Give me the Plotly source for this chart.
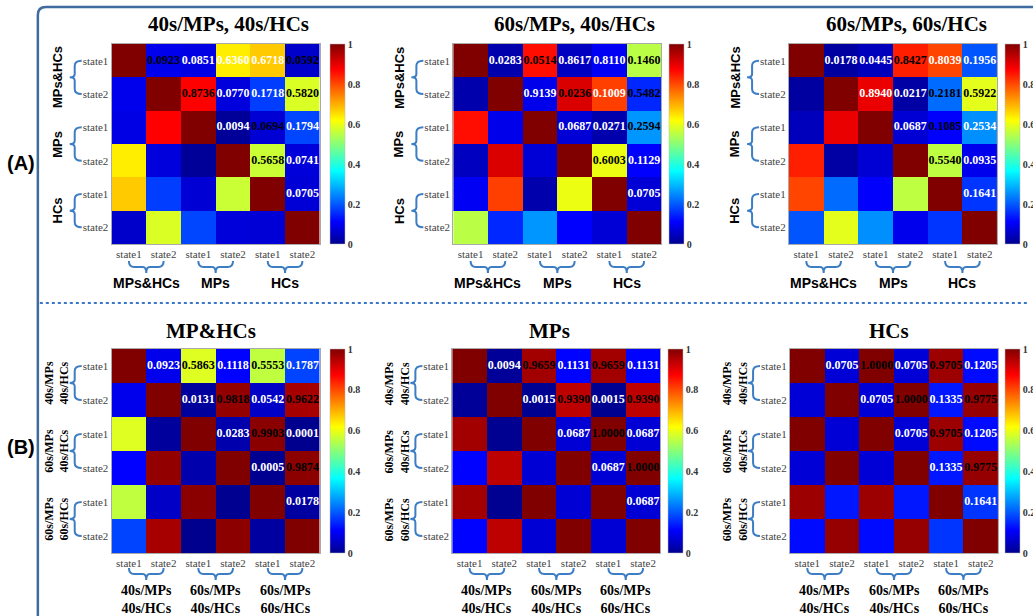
import plotly.graph_objects as go

W, H = 1033, 616

# ---------------- data ----------------
states = ["state1", "state2", "state1", "state2", "state1", "state2"]
a_groups = ["MPs&HCs", "MPs", "HCs"]
b_groups = ["40s/MPs<br>40s/HCs", "60s/MPs<br>40s/HCs", "60s/MPs<br>60s/HCs"]
titles = ["40s/MPs, 40s/HCs", "60s/MPs, 40s/HCs", "60s/MPs, 60s/HCs",
          "MP&HCs", "MPs", "HCs"]

# printed values, upper triangle, row by row
a1_text = [[0.0923, 0.0851, 0.6360, 0.6718, 0.0592], [0.8736, 0.0770, 0.1718, 0.5820],
           [0.0094, 0.0694, 0.1794], [0.5658, 0.0741], [0.0705]]
a2_text = [[0.0283, 0.0514, 0.8617, 0.8110, 0.1460], [0.9139, 0.0236, 0.1009, 0.5482],
           [0.0687, 0.0271, 0.2594], [0.6003, 0.1129], [0.0705]]
a3_text = [[0.0178, 0.0445, 0.8427, 0.8039, 0.1956], [0.8940, 0.0217, 0.2181, 0.5922],
           [0.0687, 0.1085, 0.2534], [0.5540, 0.0935], [0.1641]]
b1_text = [[0.0923, 0.5863, 0.1118, 0.5553, 0.1787], [0.0131, 0.9818, 0.0542, 0.9622],
           [0.0283, 0.9903, 0.0001], [0.0005, 0.9874], [0.0178]]
b2_text = [[0.0094, 0.9659, 0.1131, 0.9659, 0.1131], [0.0015, 0.9390, 0.0015, 0.9390],
           [0.0687, 1.0000, 0.0687], [0.0687, 1.0000], [0.0687]]
b3_text = [[0.0705, 1.0000, 0.0705, 0.9705, 0.1205], [0.0705, 1.0000, 0.1335, 0.9775],
           [0.0705, 0.9705, 0.1205], [0.1335, 0.9775], [0.1641]]

# colour values as seen (upper triangle, symmetric, diagonal = 1)
a1_color = a1_text
a2_color = [[0.03, 0.86, 0.05, 0.10, 0.55], [0.09, 0.91, 0.81, 0.15],
            [0.07, 0.03, 0.26], [0.60, 0.11], [0.07]]
a3_color = a3_text
b1_color = b1_text
b2_color = b2_text
b3_color = b3_text

# 1 = black label, 0 = white label
a1_dark = [[1, 0, 0, 0, 1], [1, 0, 0, 1], [0, 1, 0], [1, 0], [0]]
a2_dark = [[0, 1, 0, 0, 1], [0, 1, 0, 1], [0, 0, 1], [1, 0], [0]]
a3_dark = [[0, 0, 1, 0, 0], [0, 0, 1, 1], [0, 1, 0], [1, 0], [0]]
b1_dark = [[0, 1, 0, 1, 0], [0, 1, 0, 1], [0, 1, 0], [0, 1], [0]]
b2_dark = [[0, 1, 0, 1, 0], [0, 1, 0, 1], [0, 1, 0], [0, 1], [0]]
b3_dark = [[0, 1, 0, 1, 0], [0, 1, 0, 1], [0, 1, 0], [0, 1], [0]]

# ---------------- layout (pixels) ----------------
panels = [
    dict(x=(112, 321), y=(44, 244), cb=331, t=(229, 24), text=a1_text, col=a1_color, dark=a1_dark, kind="A"),
    dict(x=(455, 664), y=(44, 244), cb=672, t=(577, 24), text=a2_text, col=a2_color, dark=a2_dark, kind="A"),
    dict(x=(792, 1001), y=(44, 244), cb=1009, t=(910, 24), text=a3_text, col=a3_color, dark=a3_dark, kind="A"),
    dict(x=(112, 321), y=(349, 553), cb=331, t=(212, 331), text=b1_text, col=b1_color, dark=b1_dark, kind="B"),
    dict(x=(454, 663), y=(349, 553), cb=671, t=(552, 331), text=b2_text, col=b2_color, dark=b2_dark, kind="B"),
    dict(x=(793, 1002), y=(349, 553), cb=1009, t=(892, 331), text=b3_text, col=b3_color, dark=b3_dark, kind="B"),
]

jet = [[0, "rgb(0,0,143)"], [0.111, "rgb(0,0,255)"], [0.365, "rgb(0,255,255)"],
       [0.619, "rgb(255,255,0)"], [0.873, "rgb(255,0,0)"], [1, "rgb(128,0,0)"]]

SERIF = "Liberation Serif"
SANS = "Liberation Sans"
BLUE = "#3c7dc4"

fig = go.Figure()
annotations = []
shapes = []
layout = {}


def full(upper):
    n = len(upper) + 1
    m = [[1.0] * n for _ in range(n)]
    for i, row in enumerate(upper):
        for k, v in enumerate(row):
            j = i + 1 + k
            m[i][j] = v
            m[j][i] = v
    return m


for idx, p in enumerate(panels, start=1):
    sfx = "" if idx == 1 else str(idx)
    xa, ya = f"x{sfx}", f"y{sfx}"
    z = full(p["col"])
    fig.add_trace(go.Heatmap(
        z=z, x=list(range(6)), y=list(range(6)), colorscale=jet, zmin=0, zmax=1,
        xaxis=xa, yaxis=ya, hoverinfo="skip",
        colorbar=dict(x=p["cb"] / W, xanchor="left",
                      y=1 - (p["y"][0] + p["y"][1]) / 2 / H, yanchor="middle",
                      len=p["y"][1] - p["y"][0], lenmode="pixels",
                      thickness=15, thicknessmode="pixels", xpad=0, ypad=0,
                      tickvals=[0, 0.2, 0.4, 0.6, 0.8, 1],
                      ticktext=["0", "0.2", "0.4", "0.6", "0.8", "1"],
                      tickfont=dict(family=SERIF, size=10, color="#333", weight="bold"),
                      outlinewidth=0.5, outlinecolor="#bbb", ticklabelposition="outside"),
    ))
    tx, ty, tt, tc = [], [], [], []
    for i, row in enumerate(p["text"]):
        for k, v in enumerate(row):
            tx.append(i + 1 + k)
            ty.append(i)
            tt.append(f"{v:.4f}")
            tc.append("black" if p["dark"][i][k] else "white")
    fig.add_trace(go.Scatter(
        x=tx, y=ty, text=tt, mode="text", xaxis=xa, yaxis=ya, hoverinfo="skip",
        showlegend=False,
        textfont=dict(family=SERIF, size=12, color=tc, weight="bold")))

    wpx = p["x"][1] - p["x"][0]
    hpx = p["y"][1] - p["y"][0]
    axis_common = dict(showgrid=False, zeroline=False, showline=True, mirror=True,
                       linecolor="#aaa", linewidth=1, ticks="", fixedrange=True,
                       tickvals=list(range(6)), ticktext=states,
                       tickfont=dict(family=SERIF, size=11, color="#444"))
    layout[f"xaxis{sfx}"] = dict(domain=[p["x"][0] / W, p["x"][1] / W], anchor=ya,
                                 range=[-0.5, 5.5], **axis_common)
    layout[f"yaxis{sfx}"] = dict(domain=[1 - p["y"][1] / H, 1 - p["y"][0] / H], anchor=xa,
                                 range=[5.5, -0.5], **axis_common)

    # title
    annotations.append(dict(text=titles[idx - 1], x=p["t"][0] / W, y=1 - p["t"][1] / H,
                            xref="paper", yref="paper", showarrow=False,
                            xanchor="center", yanchor="middle",
                            font=dict(family=SERIF, size=21, color="black", weight="bold")))

    groups = a_groups if p["kind"] == "A" else b_groups
    if p["kind"] == "A":
        gfont_l = dict(family=SANS, size=13, color="black", weight="bold")
        gfont_b = dict(family=SANS, size=14, color="black", weight="bold")
        ends, hor, nub, gy = 17, 23, 29, 39
        lx = 54
    else:
        gfont_l = dict(family=SERIF, size=12, color="black", weight="bold")
        gfont_b = dict(family=SERIF, size=14, color="black", weight="bold")
        ends, hor, nub, gy = 15, 21, 27, 46
        lx = 55

    for g in range(3):
        y0, y1 = 2 * g, 2 * g + 1
        ym = y0 + 0.5
        v, e, n = -37 / wpx, -30 / wpx, -42 / wpx
        path = (f"M {e},{y0} Q {v},{y0} {v},{y0 + 0.15} L {v},{ym - 0.1} "
                f"Q {v},{ym} {n},{ym} Q {v},{ym} {v},{ym + 0.1} L {v},{y1 - 0.15} "
                f"Q {v},{y1} {e},{y1}")
        shapes.append(dict(type="path", path=path, xref=f"{xa} domain", yref=ya,
                           line=dict(color=BLUE, width=2)))
        annotations.append(dict(text=groups[g], x=-lx / wpx, y=ym,
                                xref=f"{xa} domain", yref=ya, showarrow=False,
                                textangle=-90, xanchor="center", yanchor="middle",
                                font=gfont_l))
        # bottom bracket
        x0, x1 = 2 * g, 2 * g + 1
        xm = x0 + 0.5
        ee, hh, nn = -ends / hpx, -hor / hpx, -nub / hpx
        pathb = (f"M {x0},{ee} Q {x0},{hh} {x0 + 0.15},{hh} L {xm - 0.1},{hh} "
                 f"Q {xm},{hh} {xm},{nn} Q {xm},{hh} {xm + 0.1},{hh} L {x1 - 0.15},{hh} "
                 f"Q {x1},{hh} {x1},{ee}")
        shapes.append(dict(type="path", path=pathb, xref=xa, yref=f"{ya} domain",
                           line=dict(color=BLUE, width=2)))
        annotations.append(dict(text=groups[g], x=xm, y=-gy / hpx,
                                xref=xa, yref=f"{ya} domain", showarrow=False,
                                xanchor="center", yanchor="middle", font=gfont_b))

# panel letters
annotations.append(dict(text="(A)", x=21 / W, y=1 - 163 / H, xref="paper", yref="paper",
                        xanchor="center", yanchor="middle", showarrow=False,
                        font=dict(family=SANS, size=20, color="black", weight="bold")))
annotations.append(dict(text="(B)", x=21 / W, y=1 - 447 / H, xref="paper", yref="paper",
                        xanchor="center", yanchor="middle", showarrow=False,
                        font=dict(family=SANS, size=20, color="black", weight="bold")))

# frame and divider
fx = lambda v: v / W
fy = lambda v: 1 - v / H
shapes.append(dict(type="path", xref="paper", yref="paper",
                   path=(f"M {fx(38)},{fy(630)} L {fx(38)},{fy(15)} Q {fx(38)},{fy(7)} {fx(46)},{fy(7)} "
                         f"L {fx(1045)},{fy(7)}"),
                   line=dict(color="#3f6b9e", width=2.5)))
shapes.append(dict(type="line", xref="paper", yref="paper", x0=fx(40), x1=fx(1033),
                   y0=fy(303), y1=fy(303), line=dict(color="#3b78c8", width=2, dash="dot")))

fig.update_layout(
    width=W, height=H, margin=dict(l=0, r=0, t=0, b=0),
    paper_bgcolor="white", plot_bgcolor="white", showlegend=False,
    annotations=annotations, shapes=shapes, **layout)

fig.write_html("out.html")
